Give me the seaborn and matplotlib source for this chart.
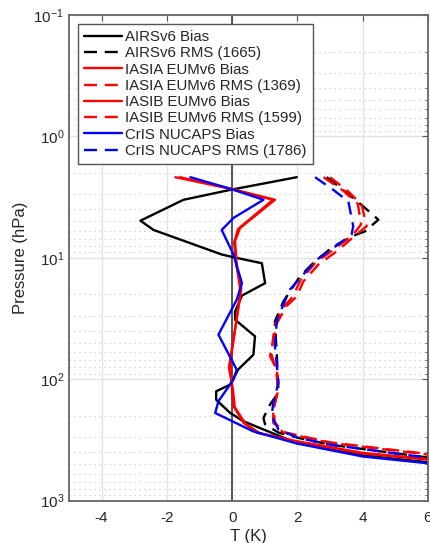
import numpy as np
import pandas as pd
import matplotlib
matplotlib.use("Agg")
import matplotlib.pyplot as plt
from matplotlib.lines import Line2D
from matplotlib.ticker import LogLocator, FixedLocator
import seaborn as sns

sns.set_theme(style="white")
plt.rcParams['font.family'] = ['Liberation Sans', 'DejaVu Sans']
plt.rcParams['mathtext.default'] = 'regular'
plt.rcParams['axes.unicode_minus'] = False

# ---- data (T in K, pressure in hPa) ----
airs_bias_T = [1.98, -0.06, -1.49, -2.81, -2.41, -0.32, 0.04, 0.91, 1.01, 0.30, 0.09, 0.09, 0.70, 0.65, 0.19, -0.06, -0.49, -0.49, -0.06, 0.34, 1.9, 4.0, 6.2]
airs_bias_p = [2.17, 2.76, 3.33, 4.95, 5.9, 9.4, 9.9, 11.1, 16.2, 20.5, 27.7, 32.4, 44.4, 63, 83, 111, 126, 148, 190, 222, 330, 425, 490]

airs_rms_T = [2.90, 3.46, 4.02, 4.48, 4.07, 3.71, 3.10, 2.54, 2.08, 1.57, 1.31, 1.37, 1.42, 1.16, 0.96, 1.01, 1.42, 2.03, 3.0, 6.2]
airs_rms_p = [2.17, 2.85, 3.78, 4.86, 6.06, 6.6, 8.07, 10.7, 14.2, 22.9, 33.4, 64.6, 129, 162, 209, 236, 276, 305, 347, 450]

iasia_bias_T = [-1.74, -0.06, 1.31, 0.24, 0.09, 0.14, 0.24, 0.24, 0.09, -0.06, -0.01, 0.04, 0.35, 0.76, 1.98, 4.0, 6.2]
iasia_bias_p = [2.17, 2.7, 3.33, 5.7, 7.3, 11.4, 17.8, 20.6, 39, 73.6, 115, 167, 229, 276, 325, 405, 460]

iasia_rms_T = [3.0, 3.56, 3.97, 4.12, 3.76, 3.2, 2.64, 2.18, 1.98, 1.67, 1.37, 1.16, 1.37, 1.42, 1.26, 1.26, 1.57, 3.0, 6.2]
iasia_rms_p = [2.17, 2.85, 3.66, 5.5, 6.6, 8.87, 11.4, 15.7, 20.8, 25, 34.6, 64.6, 83.5, 122, 178, 229, 276, 335, 425]

iasib_bias_T = [-1.6, -0.05, 1.25, 0.18, 0.06, 0.12, 0.28, 0.20, 0.05, -0.10, 0.02, 0.08, 0.40, 0.85, 2.0, 4.0, 6.2]
iasib_bias_p = [2.17, 2.7, 3.33, 5.8, 7.5, 11.4, 17.8, 25, 45, 80, 120, 170, 232, 280, 328, 410, 466]

iasib_rms_T = [2.8, 3.4, 3.85, 3.95, 3.7, 3.1, 2.55, 2.1, 1.85, 1.55, 1.30, 1.20, 1.35, 1.40, 1.28, 1.30, 1.55, 3.0, 6.2]
iasib_rms_p = [2.17, 2.8, 3.6, 5.3, 6.5, 8.6, 11.0, 15.2, 21, 26, 36, 62, 85, 120, 175, 225, 272, 332, 420]

cris_bias_T = [-1.28, -0.06, 0.96, 0.04, -0.32, 0.04, 0.30, 0.14, -0.42, 0.14, 0.04, -0.42, -0.52, 0.64, 1.98, 4.0, 6.2]
cris_bias_p = [2.17, 2.7, 3.33, 4.7, 5.9, 9.4, 16.2, 22.2, 43, 83.5, 101, 152, 190, 269, 339, 434, 500]

cris_rms_T = [2.54, 3.10, 3.56, 3.71, 3.66, 3.10, 2.59, 2.08, 1.77, 1.37, 1.31, 1.42, 1.26, 1.21, 1.42, 2.03, 3.0, 6.2]
cris_rms_p = [2.17, 2.76, 3.44, 5.5, 6.45, 8.3, 10.4, 14.7, 18.3, 32.4, 53.7, 107, 157, 202, 260, 305, 347, 452]

labels = ["AIRSv6 Bias", "AIRSv6 RMS (1665)",
          "IASIA EUMv6 Bias", "IASIA EUMv6 RMS (1369)",
          "IASIB EUMv6 Bias", "IASIB EUMv6 RMS (1599)",
          "CrIS NUCAPS Bias", "CrIS NUCAPS RMS (1786)"]
x_ticks = [-4, -2, 0, 2, 4, 6]

series = [
    (airs_bias_T, airs_bias_p, "black", "-"),
    (airs_rms_T, airs_rms_p, "black", "--"),
    (iasia_bias_T, iasia_bias_p, "#ff0000", "-"),
    (iasia_rms_T, iasia_rms_p, "#ff0000", "--"),
    (iasib_bias_T, iasib_bias_p, "#ff0000", "-"),
    (iasib_rms_T, iasib_rms_p, "#ff0000", "--"),
    (cris_bias_T, cris_bias_p, "#0000ff", "-"),
    (cris_rms_T, cris_rms_p, "#0000ff", "--"),
]

dash = (0, (5.5, 3.3))

fig = plt.figure(figsize=(4.31, 5.43), dpi=100)
ax = fig.add_axes([0.160, 0.0773, 0.833, 0.8951])

ax.set_yscale("log")
ax.set_xlim(-5, 6)
ax.set_ylim(1010, 0.1)
ax.xaxis.set_major_locator(FixedLocator(x_ticks))
ax.yaxis.set_major_locator(LogLocator(base=10, numticks=10))
ax.yaxis.set_minor_locator(LogLocator(base=10, subs=np.arange(2, 10), numticks=20))
ax.grid(True, which="major", axis="both", color="#e3e3e3", linewidth=1.0, linestyle="-")
ax.grid(True, which="minor", axis="y", color="#c4c4c4", linewidth=0.8, linestyle=(0, (1, 3.5)))
ax.set_axisbelow(True)

ax.axvline(0, color="#555555", linewidth=1.4, zorder=1.5)

handles = []
for (T, p, c, ls), lab in zip(series, labels):
    df = pd.DataFrame({"T": T, "p": p})
    style = "-" if ls == "-" else dash
    sns.lineplot(data=df, x="T", y="p", sort=False, estimator=None, ax=ax,
                 color=c, linestyle=style, linewidth=1.7, legend=False)
    handles.append(Line2D([], [], color=c, linestyle=style, linewidth=1.7, label=lab))

ax.set_xlabel("T (K)", fontsize=12, labelpad=3)
ax.set_ylabel("Pressure (hPa)", fontsize=12, labelpad=4)

ax.tick_params(axis="both", which="both", direction="in", top=True, right=True,
               labelsize=11, color="#555555")
ax.tick_params(axis="both", which="major", length=4, width=0.8)
ax.tick_params(axis="y", which="minor", length=2.5, width=0.6)
ax.tick_params(axis="x", which="major", pad=7)
for sp in ax.spines.values():
    sp.set_color("#666666")
    sp.set_linewidth(1.3)
    sp.set_visible(True)

leg = ax.legend(handles=handles, loc="upper left", bbox_to_anchor=(0.025, 0.981),
                borderaxespad=0, fontsize=10.8, handlelength=2.55, handletextpad=0.2,
                labelspacing=0.15, borderpad=0.4, fancybox=False, framealpha=1,
                edgecolor="#555555")
leg.get_frame().set_linewidth(1.0)

fig.savefig("out.png", dpi=100)
